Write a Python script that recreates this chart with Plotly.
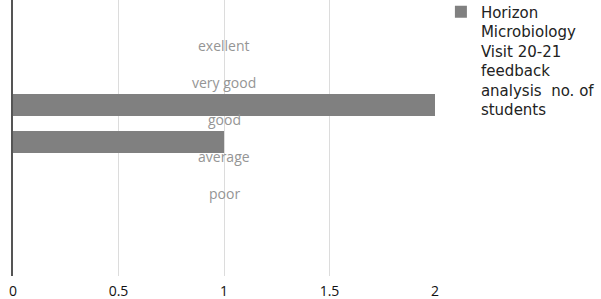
import plotly.graph_objects as go

categories = ["exellent", "very good", "good", "average", "poor"]
students = [0, 0, 2, 1, 0]
series_name = "Horizon<br>Microbiology<br>Visit 20-21<br>feedback<br>analysis  no. of<br>students"
x_ticks = [0, 0.5, 1, 1.5, 2]
x_ticktext = ["0", "0.5", "1", "1.5", "2"]

fig = go.Figure()
fig.add_trace(go.Bar(
    y=categories, x=students, orientation="h", name=series_name,
    marker=dict(color="#808080", line=dict(color="#6e6e6e", width=0)),
    width=0.59, showlegend=True,
))

for c in categories:
    fig.add_annotation(x=1, y=c, xref="x", yref="y", text=c, showarrow=False,
                       yshift=-14, font=dict(family="Open Sans", size=14, color="#959595"))

fig.update_layout(
    width=601, height=299,
    margin=dict(l=13, r=166, t=0, b=23, autoexpand=False),
    paper_bgcolor="white", plot_bgcolor="white",
    showlegend=True,
    legend=dict(x=1.014, y=1.016, xanchor="left", yanchor="top", valign="top",
                font=dict(family="DejaVu Sans", size=15, color="#222"),
                bgcolor="rgba(0,0,0,0)", tracegroupgap=0),
    xaxis=dict(range=[0, 2], tickvals=x_ticks, ticktext=x_ticktext, automargin=False,
               showgrid=True, gridcolor="#dcdcdc", gridwidth=1, zeroline=False,
               ticklabelstandoff=5,
               showline=False, tickfont=dict(family="Open Sans", size=14, color="#111")),
    yaxis=dict(type="category", categoryorder="array", categoryarray=categories,
               range=[6.62, -0.838], showticklabels=False, showgrid=False, automargin=False,
               zeroline=False, showline=True, linecolor="#555", linewidth=1.5),
    bargap=0.4,
)

fig.write_html("out.html", config={"displayModeBar": False},
               post_script="document.body.style.margin='0';document.body.style.overflow='hidden';")
